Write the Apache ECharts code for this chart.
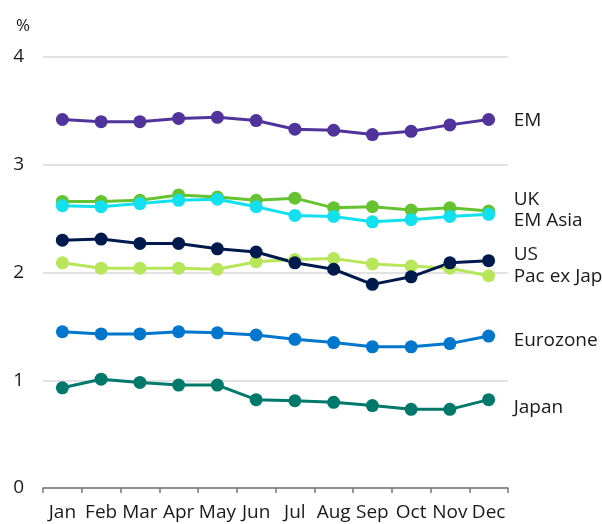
<!DOCTYPE html>
<html><head><meta charset="utf-8">
<script src="https://cdn.jsdelivr.net/npm/echarts@6/dist/echarts.min.js"></script>
<style>html,body{margin:0;padding:0;background:#fff}#c{width:602px;height:524px}</style>
</head><body><div id="c"></div>
<script>
const months = ['Jan','Feb','Mar','Apr','May','Jun','Jul','Aug','Sep','Oct','Nov','Dec'];
const yTicks = [0,1,2,3,4];
const em       = [3.42,3.40,3.40,3.43,3.44,3.41,3.33,3.32,3.28,3.31,3.37,3.42];
const uk       = [2.66,2.66,2.67,2.72,2.70,2.67,2.69,2.60,2.61,2.58,2.60,2.57];
const emAsia   = [2.62,2.61,2.64,2.67,2.68,2.61,2.53,2.52,2.47,2.49,2.52,2.54];
const us       = [2.30,2.31,2.27,2.27,2.22,2.19,2.09,2.03,1.89,1.96,2.09,2.11];
const pacExJap = [2.09,2.04,2.04,2.04,2.03,2.10,2.12,2.13,2.08,2.06,2.04,1.97];
const eurozone = [1.45,1.43,1.43,1.45,1.44,1.42,1.38,1.35,1.31,1.31,1.34,1.41];
const japan    = [0.93,1.01,0.98,0.955,0.955,0.82,0.81,0.795,0.765,0.73,0.73,0.82];

const defs = [
  {name:'Japan', data:japan, color:'#00796b', off:8},
  {name:'Eurozone', data:eurozone, color:'#0077cc', off:5},
  {name:'Pac ex Jap', data:pacExJap, color:'#b8e65a', off:1},
  {name:'US', data:us, color:'#001a4d', off:-6},
  {name:'UK', data:uk, color:'#65c332', off:-11},
  {name:'EM Asia', data:emAsia, color:'#13e0ee', off:6},
  {name:'EM', data:em, color:'#50339b', off:1}
];
const font = '"Open Sans","Noto Sans",sans-serif';
const fs = 19;
const chart = echarts.init(document.getElementById('c'));
chart.setOption({
  animation:false,
  grid:{left:43,right:94,top:57,bottom:36},
  xAxis:{type:'category',data:months,boundaryGap:true,
    axisLine:{lineStyle:{color:'#777',width:1.5}},
    axisTick:{show:true,length:5,lineStyle:{color:'#777',width:1.5}},
    axisLabel:{color:'#1a1a1a',fontSize:fs,fontFamily:font,margin:15,interval:0}},
  yAxis:{type:'value',min:yTicks[0],max:yTicks[yTicks.length-1],interval:1,
    name:'%',nameLocation:'end',nameGap:22,
    nameTextStyle:{color:'#1a1a1a',fontSize:17,fontFamily:font,align:'right',padding:[0,13,0,0]},
    axisLine:{show:false},axisTick:{show:false},
    axisLabel:{color:'#1a1a1a',fontSize:fs,fontFamily:font,margin:19},
    splitLine:{lineStyle:{color:'#d9d9d9',width:1.5}}},
  series:defs.map(d=>({
    name:d.name,type:'line',data:d.data,
    symbol:'circle',symbolSize:13,
    lineStyle:{color:d.color,width:3},
    itemStyle:{color:d.color},
    endLabel:{show:true,formatter:d.name,color:'#1a1a1a',fontSize:fs,fontFamily:font,distance:25,offset:[0,d.off]}
  }))
});
</script></body></html>
